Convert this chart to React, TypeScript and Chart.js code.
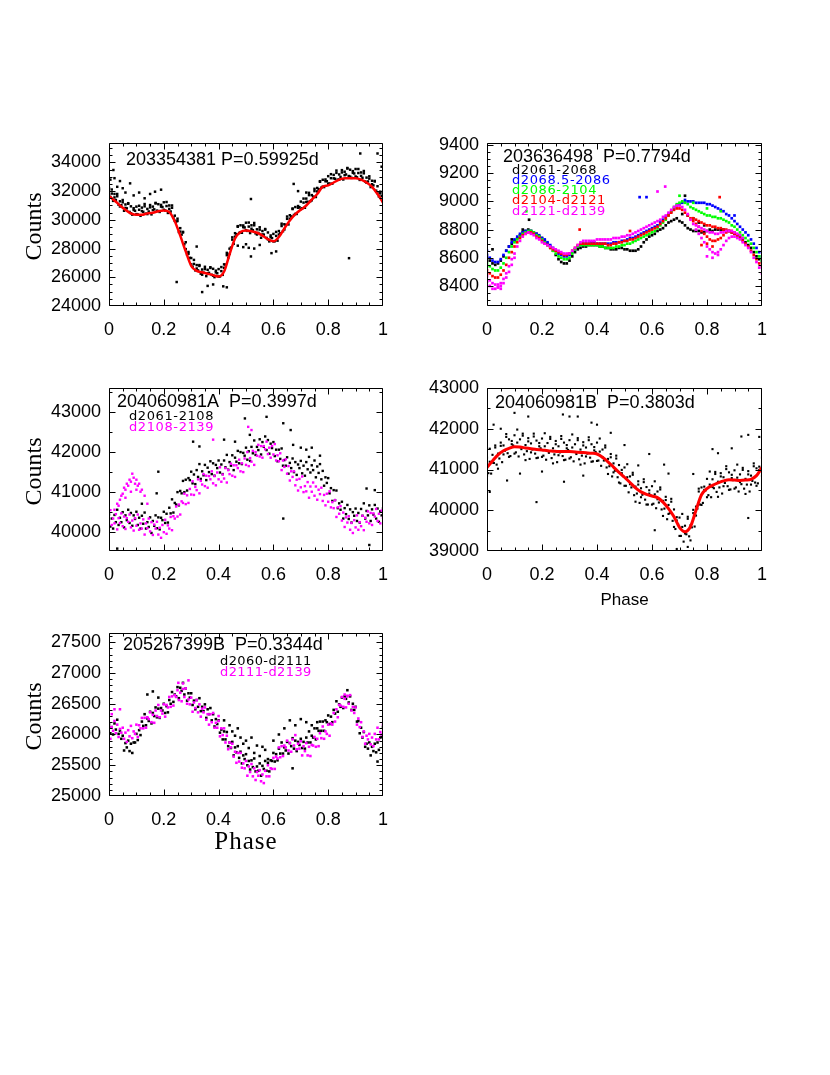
import React, { useEffect, useRef } from "react";
import { Chart, registerables } from "chart.js";

Chart.register(...registerables);

// ---------------- shared phase grids & axis ticks ----------------
const PHASE_02 = [0,0.02,0.04,0.06,0.08,0.1,0.12,0.14,0.16,0.18,0.2,0.22,0.24,0.26,0.28,0.3,0.32,0.34,0.36,0.38,0.4,0.42,0.44,0.46,0.48,0.5,0.52,0.54,0.56,0.58,0.6,0.62,0.64,0.66,0.68,0.7,0.72,0.74,0.76,0.78,0.8,0.82,0.84,0.86,0.88,0.9,0.92,0.94,0.96,0.98,1];
const PHASE_01 = [0,0.01,0.02,0.03,0.04,0.05,0.06,0.07,0.08,0.09,
0.1,0.11,0.12,0.13,0.14,0.15,0.16,0.17,0.18,0.19,
0.2,0.21,0.22,0.23,0.24,0.25,0.26,0.27,0.28,0.29,
0.3,0.31,0.32,0.33,0.34,0.35,0.36,0.37,0.38,0.39,
0.4,0.41,0.42,0.43,0.44,0.45,0.46,0.47,0.48,0.49,
0.5,0.51,0.52,0.53,0.54,0.55,0.56,0.57,0.58,0.59,
0.6,0.61,0.62,0.63,0.64,0.65,0.66,0.67,0.68,0.69,
0.7,0.71,0.72,0.73,0.74,0.75,0.76,0.77,0.78,0.79,
0.8,0.81,0.82,0.83,0.84,0.85,0.86,0.87,0.88,0.89,
0.9,0.91,0.92,0.93,0.94,0.95,0.96,0.97,0.98,0.99,
1];
const PHASE_005 = [0,0.005,0.01,0.015,0.02,0.025,0.03,0.035,0.04,0.045,0.05,0.055,0.06,0.065,0.07,0.075,0.08,0.085,0.09,0.095,
0.1,0.105,0.11,0.115,0.12,0.125,0.13,0.135,0.14,0.145,0.15,0.155,0.16,0.165,0.17,0.175,0.18,0.185,0.19,0.195,
0.2,0.205,0.21,0.215,0.22,0.225,0.23,0.235,0.24,0.245,0.25,0.255,0.26,0.265,0.27,0.275,0.28,0.285,0.29,0.295,
0.3,0.305,0.31,0.315,0.32,0.325,0.33,0.335,0.34,0.345,0.35,0.355,0.36,0.365,0.37,0.375,0.38,0.385,0.39,0.395,
0.4,0.405,0.41,0.415,0.42,0.425,0.43,0.435,0.44,0.445,0.45,0.455,0.46,0.465,0.47,0.475,0.48,0.485,0.49,0.495,
0.5,0.505,0.51,0.515,0.52,0.525,0.53,0.535,0.54,0.545,0.55,0.555,0.56,0.565,0.57,0.575,0.58,0.585,0.59,0.595,
0.6,0.605,0.61,0.615,0.62,0.625,0.63,0.635,0.64,0.645,0.65,0.655,0.66,0.665,0.67,0.675,0.68,0.685,0.69,0.695,
0.7,0.705,0.71,0.715,0.72,0.725,0.73,0.735,0.74,0.745,0.75,0.755,0.76,0.765,0.77,0.775,0.78,0.785,0.79,0.795,
0.8,0.805,0.81,0.815,0.82,0.825,0.83,0.835,0.84,0.845,0.85,0.855,0.86,0.865,0.87,0.875,0.88,0.885,0.89,0.895,
0.9,0.905,0.91,0.915,0.92,0.925,0.93,0.935,0.94,0.945,0.95,0.955,0.96,0.965,0.97,0.975,0.98,0.985,0.99,0.995,
1];
const X_TICKS = [0, 0.2, 0.4, 0.6, 0.8, 1];

// ---------------- Panel 1: 203354381 ----------------
const P1_Y_TICKS = [24000, 26000, 28000, 30000, 32000, 34000];
const P1_MODEL = [31650,31350,31000,30700,30450,30350,30350,30450,30500,30600,
30650,30550,29900,28900,27800,26800,26450,26350,26250,26150,
26050,26400,27600,28700,29150,29250,29200,29100,28900,28650,
28500,28800,29400,29950,30400,30700,31000,31400,31800,32300,
32400,32600,32800,32900,32900,32900,32800,32600,32300,31800,
31200];
const P1_BLACK_A = [32220,31590,31830,31320,31800,31380,31800,31050,31290,31020,
31380,30630,31070,30800,31160,30550,30940,30360,30810,30630,
30920,30370,30700,30280,30850,30560,31100,30430,30760,30580,
31030,30380,30920,30730,31180,30640,31090,30550,31040,30890,
31220,30650,30960,30480,31000,30580,31000,30150,30290,29870,
30080,29150,29420,28970,29160,28300,28440,27580,27760,27350,
27340,26740,26930,26480,26850,26480,26850,26250,26540,26320,
26730,26080,26520,26310,26650,26170,26590,26010,26460,26280,
26570,26060,26430,26170,26900,26880,27700,27350,27990,28070,
28780,28330,29070,29000,29560,29090,29620,29100,29610,29470,
29800,29230,29530,29080,29620,29280,29780,29060,29340,29090,
29480,28750,29220,28970,29360,28740,29120,28500,28910,28730,
29020,28510,28880,28550,29220,29060,29730,29210,29690,29640,
30230,29680,30320,30240,30790,30340,30890,30410,30960,30880,
31270,30800,31200,30840,31480,31260,31880,31300,31720,31620,
32160,31590,32220,32140,32690,32240,32790,32280,32810,32690,
33040,32530,32900,32520,33130,32860,33430,32800,33160,32990,
33460,32810,33350,33160,33610,33050,33490,32920,33390,33230,
33540,32960,33260,32780,33300,32930,33400,32670,32940,32670,
33030,32280,32720,32400,32710,32030,32340,31630,31960,31650,
31820];
const P1_BLACK_B = [31700,32110,31560,31640,30930,31220,30830,31120,30460,30690,
30400,30980,30610,30940,30400,30870,30680,31140,30610,30920,
30700,31240,30760,30840,29930,29920,29180,29120,27960,27640,
26900,27210,26610,26790,26180,26570,26280,26700,26110,26340,
26050,26710,26660,27540,27630,28620,28830,29520,29140,29490,
29280,29810,29380,29620,28980,29320,28980,29320,28640,28790,
28500,29160,28980,29570,29330,30070,30080,30750,30410,30840,
30750,31480,31240,31720,31360,32000,31980,32650,32310,32690,
32520,33180,32890,33270,32800,33300,33110,33570,33010,33270,
33020,33540,33060,33240,32580,32870,32480,32670,31860,31840,
31300];
const P1_OUT_X = [0.005,0.016,0.02,0.03,0.04,0.05,0.06,0.077,0.09,0.11,0.13,0.15,0.168,0.19,0.247,0.32,0.34,0.36,0.38,0.417,0.43,0.47,0.49,0.5,0.51,0.518,0.518,0.53,0.55,0.593,0.61,0.674,0.69,0.72,0.876,0.917,0.98,0.995];
const P1_OUT_Y = [32800,33470,32900,32300,32700,32200,31900,32540,31700,31900,31500,31800,31960,32100,25670,28140,24970,25400,25500,25370,25300,28200,28100,28300,28050,31450,27450,28000,28250,27680,27800,32500,32000,31900,27330,34620,34620,33700];

// ---------------- Panel 2: 203636498 ----------------
const P2_Y_TICKS = [8400, 8600, 8800, 9000, 9200, 9400];
const P2_SERIES_NAMES = ["d2061-2068", "d2068.5-2086", "d2086-2104", "d2104-d2121", "d2121-d2139"];
const P2_BLACK = [8600,8580,8560,8550,8560,8580,8610,8650,8680,8700,
8720,8740,8760,8780,8790,8800,8790,8780,8770,8750,
8740,8720,8700,8680,8650,8620,8590,8570,8560,8560,
8580,8610,8640,8660,8670,8680,8680,8690,8690,8690,
8690,8680,8680,8670,8670,8660,8660,8660,8670,8670,
8660,8660,8650,8650,8650,8660,8680,8710,8730,8750,
8760,8770,8790,8800,8810,8830,8850,8860,8870,8880,
8860,8850,8830,8810,8800,8790,8790,8790,8780,8780,
8790,8800,8790,8800,8800,8800,8800,8790,8790,8780,
8770,8760,8750,8730,8710,8690,8670,8640,8610,8590,
8570];
const P2_BLUE = [8620,8600,8580,8570,8570,8590,8620,8650,8680,8710,
8730,8750,8770,8780,8790,8790,8790,8780,8770,8760,
8740,8730,8710,8690,8670,8650,8630,8620,8610,8610,
8620,8640,8660,8680,8690,8700,8700,8700,8710,8710,
8700,8700,8700,8700,8700,8700,8710,8710,8710,8720,
8720,8730,8740,8740,8750,8760,8770,8780,8790,8800,
8810,8820,8830,8850,8870,8890,8910,8930,8950,8970,
8980,8990,9000,9000,9000,9000,8990,8990,8990,8990,
8980,8980,8970,8960,8950,8940,8930,8910,8900,8880,
8860,8840,8820,8800,8780,8760,8730,8700,8670,8640,
8610];
const P2_GREEN = [8560,8540,8520,8510,8510,8530,8560,8600,8640,8680,
8710,8730,8750,8770,8780,8790,8790,8780,8760,8750,
8730,8710,8690,8670,8650,8630,8610,8600,8590,8590,
8600,8630,8660,8680,8690,8690,8690,8690,8690,8690,
8690,8680,8680,8670,8670,8670,8670,8680,8680,8690,
8690,8700,8700,8710,8720,8730,8740,8750,8760,8770,
8780,8790,8810,8830,8850,8870,8900,8930,8960,8980,
8990,9000,8990,8980,8960,8950,8940,8930,8920,8910,
8900,8900,8890,8890,8880,8880,8870,8860,8850,8830,
8820,8800,8780,8760,8740,8720,8700,8670,8640,8610,
8580];
const P2_RED = [8510,8490,8470,8460,8460,8480,8510,8550,8600,8640,
8680,8710,8740,8760,8770,8780,8780,8770,8750,8740,
8720,8700,8690,8670,8660,8650,8640,8630,8620,8620,
8630,8650,8670,8690,8700,8700,8700,8700,8700,8700,
8700,8700,8700,8700,8690,8690,8700,8700,8710,8710,
8720,8720,8730,8730,8740,8750,8760,8770,8780,8790,
8800,8810,8820,8840,8860,8880,8900,8920,8940,8950,
8950,8940,8920,8900,8880,8860,8840,8820,8790,8770,
8750,8730,8720,8720,8730,8740,8760,8780,8790,8790,
8780,8760,8740,8720,8700,8680,8650,8620,8590,8560,
8540];
const P2_MAGENTA = [8470,8440,8420,8410,8410,8420,8450,8490,8540,8590,
8630,8680,8720,8750,8770,8780,8770,8760,8740,8730,
8710,8700,8690,8680,8670,8660,8650,8640,8630,8630,
8630,8650,8670,8690,8710,8720,8720,8720,8720,8720,
8730,8730,8730,8730,8730,8730,8740,8740,8740,8750,
8750,8760,8760,8770,8780,8790,8800,8810,8820,8830,
8840,8850,8860,8870,8890,8900,8920,8940,8960,8970,
8970,8960,8940,8910,8870,8840,8800,8770,8740,8710,
8680,8660,8640,8630,8640,8660,8690,8720,8740,8750,
8750,8740,8730,8710,8690,8670,8640,8600,8570,8530,
8490];
const P2_RED_UP_X = [0.75,0.76,0.77,0.78,0.79,0.8,0.81,0.82,0.83,0.84,0.85,0.86,0.87,0.88,0.89,0.9];
const P2_RED_UP_Y = [8880,8870,8860,8850,8840,8830,8830,8820,8820,8810,8810,8800,8800,8790,8780,8770];
const P2_MAG_UP_X = [0.76,0.77,0.78,0.79,0.8,0.81,0.82,0.83,0.84,0.85,0.86,0.87,0.88,0.89,0.9,0.91,0.92,0.93];
const P2_MAG_UP_Y = [8830,8820,8810,8800,8790,8780,8780,8770,8770,8780,8780,8790,8790,8790,8780,8770,8760,8740];
const P2_MAG_LO_X = [0,0.01,0.02,0.03,0.04,0.05,0.06,0.07,0.08,0.09,0.1];
const P2_MAG_LO_Y = [8430,8400,8380,8380,8390,8400,8420,8460,8500,8550,8600];
const P2_BLACK_OUT_X = [0.02,0.09,0.13,0.153,0.71,0.72,0.73,0.75,0.77,0.79];
const P2_BLACK_OUT_Y = [8660,8730,8800,8870,8910,9040,8900,8880,8850,8830];
const P2_BLUE_OUT_X = [0,0.555,0.58,0.72,0.9];
const P2_BLUE_OUT_Y = [8650,9030,9030,9010,8900];
const P2_GREEN_OUT_X = [0.143,0.7,0.75,0.8,0.85];
const P2_GREEN_OUT_Y = [8930,9040,8990,8950,8930];
const P2_RED_OUT_X = [0.337,0.52,0.78,0.8,0.82,0.846];
const P2_RED_OUT_Y = [8800,8790,8690,8700,8680,9030];
const P2_MAG_OUT_X = [0.04,0.05,0.62,0.648,0.8,0.82,0.84];
const P2_MAG_OUT_Y = [8390,8380,9070,9105,8610,8600,8620];

// ---------------- Panel 3: 204060981A ----------------
const P3_Y_TICKS = [40000, 41000, 42000, 43000];
const P3_BLACK = [40430,40130,40330,40080,40420,40240,40550,40170,40350,40240,
40490,40110,40410,40290,40550,40220,40470,40150,40410,40320,
40500,40170,40350,40080,40400,40200,40480,40080,40240,40120,
40360,39970,40270,40150,40410,40090,40360,40060,40350,40290,
40500,40220,40450,40230,40600,40460,40810,40480,40720,40680,
40990,40660,41020,40960,41270,40990,41300,41030,41340,41290,
41500,41210,41430,41190,41540,41370,41690,41320,41510,41410,
41670,41290,41600,41490,41760,41440,41710,41400,41670,41590,
41780,41480,41680,41440,41780,41610,41920,41550,41740,41650,
41910,41540,41850,41750,42020,41710,41990,41690,41970,41900,
42100,41800,42010,41770,42120,41960,42280,41920,42120,42040,
42310,41930,42240,42120,42380,42040,42290,41950,42200,42090,
42240,41890,42050,41760,42050,41820,42080,41650,41790,41650,
41860,41450,41720,41590,41830,41490,41740,41420,41680,41590,
41770,41460,41650,41400,41740,41560,41870,41480,41660,41540,
41780,41360,41630,41470,41690,41310,41520,41150,41360,41220,
41340,40960,41090,40770,41040,40790,41030,40590,40710,40550,
40750,40330,40590,40440,40670,40320,40560,40230,40490,40400,
40580,40270,40470,40230,40570,40400,40710,40330,40520,40410,
40660,40270,40560,40430,40670,40330,40580,40250,40510,40410,
40580];
const P3_MAGENTA = [40260,40540,40170,40330,40210,40440,40060,40340,40220,40460,
40140,40380,40070,40340,40250,40430,40110,40280,40030,40340,
40150,40430,40050,40210,40080,40310,39930,40210,40090,40330,
40010,40240,39920,40180,40080,40250,39930,40100,39850,40170,
39990,40300,39950,40160,40080,40370,40040,40390,40330,40630,
40380,40680,40430,40760,40720,40950,40690,40910,40720,41070,
40930,41260,40920,41120,41040,41310,40960,41270,41180,41440,
41140,41400,41100,41390,41310,41510,41210,41390,41160,41480,
41310,41610,41250,41430,41330,41590,41230,41540,41440,41700,
41400,41660,41370,41660,41590,41800,41510,41710,41490,41830,
41670,41990,41640,41840,41750,42020,41670,41990,41900,42170,
41880,42140,41850,42140,42060,42250,41940,42100,41850,42140,
41930,42190,41780,41910,41760,41960,41540,41780,41620,41810,
41450,41640,41280,41510,41370,41510,41160,41300,41030,41320,
41110,41380,40990,41140,41010,41240,40850,41130,41000,41230,
40900,41130,40800,41050,40940,41100,40770,40920,40660,40950,
40750,41010,40610,40740,40590,40790,40370,40610,40450,40640,
40280,40480,40120,40360,40230,40390,40050,40220,39970,40290,
40110,40410,40050,40240,40140,40400,40040,40350,40250,40510,
40210,40470,40170,40460,40380,40570,40270,40450,40210,40530,
40350];
const P3_MAG_BUMP_X = [0.02,0.03,0.035,0.04,0.045,0.05,0.055,0.06,0.06,0.065,0.07,0.075,0.08,0.08,0.085,0.09,0.095,0.1,0.1,0.105,0.11,0.115,0.12,0.13,0.14];
const P3_MAG_BUMP_Y = [40550,40700,40650,40800,40900,40950,41100,41050,40850,41200,41150,41300,41250,41000,41450,41350,41200,41300,41050,41150,41200,41000,41050,40900,40700];
const P3_BLACK_OUT_X = [0.03,0.174,0.18,0.307,0.33,0.496,0.514,0.575,0.636,0.663,0.636,0.94,0.97,0.95,0.12,0.7,0.72,0.74,0.77,0.46,0.42,0.672];
const P3_BLACK_OUT_Y = [39580,40960,41500,42250,42130,42830,42420,42870,42710,42540,40330,41080,41040,39670,40700,42100,42050,42100,41900,42250,42300,42170];
const P3_MAG_OUT_X = [0.508,0.52,0.38];
const P3_MAG_OUT_Y = [42620,42540,42300];

// ---------------- Panel 4: 204060981B ----------------
const P4_Y_TICKS = [39000, 40000, 41000, 42000, 43000];
const P4_MODEL = [41050,41210,41360,41460,41520,41560,41550,41530,41510,41490,
41480,41460,41450,41440,41440,41440,41430,41420,41410,41400,
41380,41300,41190,41060,40930,40810,40680,40550,40450,40390,
40350,40310,40200,40040,39840,39580,39470,39600,40000,40380,
40530,40610,40670,40720,40750,40740,40730,40740,40760,40850,
41050];
const P4_BLACK_A = [41290,40910,41190,40900,41360,41160,41590,41120,41390,41270,
41660,41180,41590,41460,41800,41400,41740,41330,41700,41590,
41840,41420,41660,41320,41740,41500,41880,41370,41600,41450,
41770,41260,41640,41490,41810,41390,41710,41290,41650,41520,
41760,41340,41570,41240,41650,41410,41800,41280,41520,41370,
41700,41180,41570,41420,41750,41330,41660,41240,41600,41480,
41720,41300,41540,41200,41620,41380,41770,41250,41490,41340,
41670,41150,41540,41390,41720,41290,41620,41200,41550,41430,
41660,41220,41440,41090,41490,41220,41590,41050,41260,41080,
41380,40830,41150,40970,41270,40810,41110,40660,40990,40840,
41050,40600,40810,40440,40830,40560,40920,40370,40580,40410,
40710,40180,40540,40380,40690,40260,40570,40140,40490,40360,
40590,40160,40390,40050,40460,40190,40560,40020,40230,40040,
40330,39780,40130,39930,40210,39740,40020,39540,39830,39650,
39820,39370,39590,39230,39620,39410,39840,39360,39630,39580,
40010,39600,40090,40040,40460,40140,40560,40180,40580,40490,
40770,40370,40630,40320,40760,40540,40940,40450,40700,40560,
40910,40410,40810,40670,41010,40590,40930,40510,40870,40740,
40980,40560,40800,40460,40880,40640,41040,40530,40770,40630,
40960,40460,40850,40720,41080,40680,41030,40660,41070,41000,
41290];
const P4_BLACK_B = [40840,41510,41170,41540,41020,41580,41370,41870,41310,41620,
41390,41980,41550,41830,41230,41690,41420,41880,41280,41570,
41310,41890,41460,41750,41150,41620,41350,41820,41230,41520,
41270,41860,41430,41720,41120,41590,41320,41790,41190,41470,
41210,41760,41300,41540,40890,41300,40930,41340,40680,40910,
40600,41130,40640,40870,40210,40630,40320,40760,40140,40410,
40140,40710,40270,40510,39860,40250,39910,40280,39590,39750,
39370,39910,39430,39790,39260,39930,39870,40530,40130,40500,
40320,40950,40570,40890,40330,40830,40590,41080,40500,40790,
40530,41120,40690,40990,40400,40880,40630,41150,40600,40990,
40840];
const P4_OUT_X = [0.01,0.024,0.05,0.073,0.1,0.15,0.18,0.276,0.3,0.33,0.38,0.4,0.45,0.59,0.61,0.644,0.66,0.75,0.82,0.84,0.89,0.925,0.95,0.95,0.99,0.5,0.55,0.69,0.71,0.73,0.12,0.2,0.28,0.35];
const P4_OUT_Y = [40450,42100,42000,40730,42390,42300,40200,42350,42300,42300,42150,42100,41900,41380,39510,41120,40900,40890,41500,41400,41520,41810,41850,39810,41800,41600,41100,39050,39000,39100,40900,40950,40700,40850];

// ---------------- Panel 5: 205267399B ----------------
const P5_Y_TICKS = [25000, 25500, 26000, 26500, 27000, 27500];
const P5_BLACK = [26170,26020,26120,26000,26180,26080,26240,26010,26060,25930,
25980,25740,25860,25790,25900,25730,25850,25700,25870,25870,
26010,25910,26070,25990,26210,26140,26330,26150,26260,26220,
26370,26180,26350,26300,26440,26280,26420,26270,26430,26390,
26500,26350,26460,26360,26560,26500,26690,26530,26650,26620,
26770,26590,26760,26710,26840,26650,26750,26550,26670,26600,
26670,26480,26550,26410,26560,26450,26590,26380,26450,26380,
26490,26270,26410,26330,26430,26230,26330,26130,26250,26170,
26230,26030,26080,25920,26050,25920,26040,25810,25870,25780,
25880,25660,25790,25710,25810,25620,25720,25530,25660,25600,
25680,25500,25570,25430,25580,25470,25610,25400,25480,25410,
25530,25330,25490,25440,25570,25410,25540,25400,25580,25570,
25700,25560,25680,25580,25770,25690,25870,25690,25790,25740,
25880,25690,25860,25810,25940,25770,25900,25730,25880,25830,
25930,25780,25880,25770,25950,25870,26050,25870,25980,25950,
26100,25920,26100,26060,26210,26060,26210,26060,26230,26200,
26310,26170,26290,26200,26400,26340,26540,26370,26490,26450,
26600,26430,26620,26580,26720,26520,26620,26400,26500,26400,
26450,26210,26220,26020,26110,25950,26040,25800,25850,25770,
25870,25660,25800,25730,25850,25710,25870,25750,25950,25960,
26120];
const P5_MAGENTA = [26130,25930,26120,26060,26220,26020,26160,25960,26090,26030,
26110,25930,26030,25880,26070,25970,26140,25940,26050,26010,
26160,25960,26150,26100,26270,26100,26270,26110,26280,26250,
26360,26200,26320,26190,26390,26300,26480,26280,26390,26340,
26490,26290,26480,26440,26610,26450,26620,26470,26640,26610,
26720,26560,26680,26540,26740,26610,26750,26500,26570,26490,
26600,26370,26520,26430,26560,26360,26490,26290,26420,26360,
26440,26240,26330,26160,26330,26200,26350,26110,26190,26110,
26220,25970,26100,25990,26100,25870,25980,25760,25870,25790,
25850,25640,25720,25540,25700,25560,25700,25460,25530,25450,
25570,25330,25480,25390,25520,25320,25450,25260,25390,25330,
25420,25240,25350,25210,25410,25320,25500,25320,25450,25440,
25620,25440,25640,25610,25790,25630,25810,25650,25820,25790,
25900,25740,25860,25720,25920,25820,25990,25760,25850,25770,
25890,25660,25810,25730,25860,25660,25800,25650,25830,25820,
25960,25800,25930,25810,26020,25940,26130,25930,26050,26010,
26160,25980,26180,26160,26350,26210,26410,26280,26480,26470,
26610,26450,26580,26440,26630,26500,26640,26390,26450,26350,
26440,26160,26260,26120,26200,25960,26050,25850,25980,25920,
26010,25840,25950,25810,26010,25920,26110,25920,26040,26000,
26160];
const P5_BLACK_OUT_X = [0.42,0.44,0.46,0.47,0.49,0.5,0.51,0.52,0.53,0.54,0.55,0.56,0.57,0.6,0.62,0.64,0.66,0.68,0.7,0.72,0.74,0.76,0.16,0.14,0.18,0.98,0.67,0.45,0.48,0.58];
const P5_BLACK_OUT_Y = [26230,26150,25980,26100,25850,25900,25780,25950,25700,25820,25650,25800,25750,25900,26000,26100,26230,26150,26250,26200,26150,26200,26700,26650,26600,25560,25450,26050,25950,25600];
const P5_MAG_OUT_X = [0.01,0.02,0.04,0.253,0.27,0.29,0.4,0.86,0.87];
const P5_MAG_OUT_Y = [26330,26410,26410,26840,26830,26880,26300,26650,26620];

// ---------------- styling ----------------
const SANS = '"Liberation Sans", Arial, Helvetica, sans-serif';
const SERIF = '"Liberation Serif", "Times New Roman", serif';
const SMALL = '"DejaVu Sans", "Liberation Sans", sans-serif';
const BLACK = "#000000";
const BLUE = "#0000ff";
const GREEN = "#00ff00";
const RED = "#ff0000";
const MAGENTA = "#ff00ff";

const YW = 100; // y-axis box width
const PT = 20; // top padding
const PR = 20; // right padding
const XH = 70; // x-axis box height

function pts(pairs: [number[], number[]][]) {
  const out: { x: number; y: number }[] = [];
  for (const [xs, ys] of pairs) xs.forEach((x, i) => out.push({ x, y: ys[i] }));
  return out;
}
function dots(pairs: [number[], number[]][], color: string, r: number) {
  return {
    data: pts(pairs),
    showLine: false,
    pointStyle: "rect",
    pointRadius: r,
    pointHoverRadius: r,
    pointBorderWidth: 0,
    pointBackgroundColor: color,
    backgroundColor: color,
    borderColor: color,
    clip: 0,
  };
}
function curve(xs: number[], ys: number[], color: string, w: number) {
  return {
    data: pts([[xs, ys]]),
    showLine: true,
    borderColor: color,
    backgroundColor: color,
    borderWidth: w,
    pointRadius: 0,
    pointHoverRadius: 0,
    cubicInterpolationMode: "monotone",
    clip: 0,
  };
}
// datasets listed bottom-first; later ones are drawn on top
function stack(list: any[]) {
  return list.map((d, i) => ({ ...d, order: list.length - i }));
}

type Label = {
  text: string;
  anchor: "tl" | "ytitle" | "xtitle";
  x: number;
  y: number;
  font: string;
  color?: string;
  spacing?: string;
};

type Spec = {
  left: number;
  top: number;
  right: number;
  bottom: number;
  yMin: number;
  yMax: number;
  yTicks: number[];
  yMinor: number;
  datasets: any[];
  labels: Label[];
};

const pgPlugin = {
  id: "pgframe",
  afterDraw(chart: any, _args: any, opts: any) {
    const { ctx, chartArea: a } = chart;
    const xs = chart.scales.x;
    const ys = chart.scales.y;
    const L = a.left + 0.5;
    const R = a.right - 0.5;
    const T = a.top + 0.5;
    const B = a.bottom - 0.5;
    ctx.save();
    ctx.strokeStyle = "#000";
    ctx.lineWidth = 1;
    ctx.beginPath();
    ctx.rect(L, T, R - L, B - T);
    const clamp = (v: number, lo: number, hi: number) => Math.min(hi, Math.max(lo, v));
    const tickX = (v: number, len: number) => {
      const p = clamp(Math.round(xs.getPixelForValue(v)) + 0.5, L, R);
      ctx.moveTo(p, B);
      ctx.lineTo(p, B - len);
      ctx.moveTo(p, T);
      ctx.lineTo(p, T + len);
    };
    const tickY = (v: number, len: number) => {
      const p = clamp(Math.round(ys.getPixelForValue(v)) + 0.5, T, B);
      ctx.moveTo(L, p);
      ctx.lineTo(L + len, p);
      ctx.moveTo(R, p);
      ctx.lineTo(R - len, p);
    };
    const minor = (min: number, max: number, step: number, majors: number[], fn: (v: number, l: number) => void) => {
      const i0 = Math.ceil(min / step - 1e-6);
      const i1 = Math.floor(max / step + 1e-6);
      for (let i = i0; i <= i1; i++) {
        const v = i * step;
        if (majors.some((m) => Math.abs(m - v) < step * 1e-3)) continue;
        fn(v, 3);
      }
    };
    X_TICKS.forEach((v) => tickX(v, 6));
    minor(xs.min, xs.max, 0.05, X_TICKS, tickX);
    opts.yTicks.forEach((v: number) => tickY(v, 6));
    minor(ys.min, ys.max, opts.yMinor, opts.yTicks, tickY);
    ctx.stroke();

    for (const lb of opts.labels as Label[]) {
      ctx.save();
      ctx.font = lb.font;
      ctx.fillStyle = lb.color || "#000";
      ctx.letterSpacing = lb.spacing || "0px";
      ctx.textBaseline = "middle";
      if (lb.anchor === "tl") {
        ctx.textAlign = "left";
        ctx.fillText(lb.text, a.left + lb.x, a.top + lb.y);
      } else if (lb.anchor === "ytitle") {
        ctx.translate(a.left + lb.x, (a.top + a.bottom) / 2 + lb.y);
        ctx.rotate(-Math.PI / 2);
        ctx.textAlign = "center";
        ctx.fillText(lb.text, 0, 0);
      } else {
        ctx.textAlign = "center";
        ctx.fillText(lb.text, (a.left + a.right) / 2 + lb.x, a.bottom + lb.y);
      }
      ctx.restore();
    }
    ctx.restore();
  },
};

function buildConfig(spec: Spec): any {
  const tickFont = { family: SANS, size: 18 };
  return {
    type: "scatter",
    data: { datasets: spec.datasets },
    options: {
      animation: false,
      responsive: false,
      maintainAspectRatio: false,
      events: [],
      layout: { padding: { left: 0, top: PT, right: PR, bottom: 0 } },
      plugins: {
        legend: { display: false },
        tooltip: { enabled: false },
        pgframe: { labels: spec.labels, yTicks: spec.yTicks, yMinor: spec.yMinor },
      },
      scales: {
        x: {
          type: "linear",
          position: "bottom",
          min: 0,
          max: 1,
          afterBuildTicks: (s: any) => {
            s.ticks = X_TICKS.map((v) => ({ value: v }));
          },
          afterFit: (s: any) => {
            s.height = XH;
          },
          grid: { display: false, drawTicks: false },
          border: { display: false },
          ticks: {
            autoSkip: false,
            maxRotation: 0,
            padding: 13,
            color: "#000",
            font: tickFont,
            callback: (v: any) => String(v),
          },
        },
        y: {
          type: "linear",
          position: "left",
          min: spec.yMin,
          max: spec.yMax,
          afterBuildTicks: (s: any) => {
            s.ticks = spec.yTicks.map((v) => ({ value: v }));
          },
          afterFit: (s: any) => {
            s.width = YW;
          },
          grid: { display: false, drawTicks: false },
          border: { display: false },
          ticks: {
            autoSkip: false,
            padding: 8,
            color: "#000",
            font: tickFont,
            callback: (v: any) => String(v),
          },
        },
      },
    },
    plugins: [pgPlugin],
  };
}

const TITLE_FONT = `18px ${SANS}`;
const LEG_FONT = `13px ${SMALL}`;
const COUNTS: Label = { text: "Counts", anchor: "ytitle", x: -74, y: 2, font: `24px ${SERIF}` };

const SPECS: Spec[] = [
  {
    left: 109, top: 143, right: 383, bottom: 306,
    yMin: 24000, yMax: 35350, yTicks: P1_Y_TICKS, yMinor: 500,
    datasets: stack([
      dots([[PHASE_005, P1_BLACK_A], [PHASE_01, P1_BLACK_B], [P1_OUT_X, P1_OUT_Y]], BLACK, 1.75),
      curve(PHASE_02, P1_MODEL, RED, 2.5),
    ]),
    labels: [
      { text: "203354381 P=0.59925d", anchor: "tl", x: 17, y: 17, font: TITLE_FONT },
      COUNTS,
    ],
  },
  {
    left: 487, top: 143, right: 762, bottom: 306,
    yMin: 8258, yMax: 9414, yTicks: P2_Y_TICKS, yMinor: 50,
    datasets: stack([
      dots([[PHASE_01, P2_BLACK], [P2_BLACK_OUT_X, P2_BLACK_OUT_Y]], BLACK, 1.9),
      dots([[PHASE_01, P2_BLUE], [P2_BLUE_OUT_X, P2_BLUE_OUT_Y]], BLUE, 1.9),
      dots([[PHASE_01, P2_GREEN], [P2_GREEN_OUT_X, P2_GREEN_OUT_Y]], GREEN, 1.9),
      dots([[PHASE_01, P2_RED], [P2_RED_UP_X, P2_RED_UP_Y], [P2_RED_OUT_X, P2_RED_OUT_Y]], RED, 1.9),
      dots([[PHASE_01, P2_MAGENTA], [P2_MAG_UP_X, P2_MAG_UP_Y], [P2_MAG_LO_X, P2_MAG_LO_Y], [P2_MAG_OUT_X, P2_MAG_OUT_Y]], MAGENTA, 1.9),
    ]),
    labels: [
      { text: "203636498  P=0.7794d", anchor: "tl", x: 16, y: 14, font: TITLE_FONT },
      { text: P2_SERIES_NAMES[0], anchor: "tl", x: 25, y: 28, font: LEG_FONT, color: BLACK, spacing: "0.6px" },
      { text: P2_SERIES_NAMES[1], anchor: "tl", x: 25, y: 38, font: LEG_FONT, color: BLUE, spacing: "0.6px" },
      { text: P2_SERIES_NAMES[2], anchor: "tl", x: 25, y: 48, font: LEG_FONT, color: GREEN, spacing: "0.6px" },
      { text: P2_SERIES_NAMES[3], anchor: "tl", x: 25, y: 58, font: LEG_FONT, color: RED, spacing: "0.6px" },
      { text: P2_SERIES_NAMES[4], anchor: "tl", x: 25, y: 69, font: LEG_FONT, color: MAGENTA, spacing: "0.6px" },
    ],
  },
  {
    left: 109, top: 388, right: 383, bottom: 551,
    yMin: 39520, yMax: 43590, yTicks: P3_Y_TICKS, yMinor: 500,
    datasets: stack([
      dots([[PHASE_005, P3_BLACK], [P3_BLACK_OUT_X, P3_BLACK_OUT_Y]], BLACK, 1.7),
      dots([[PHASE_005, P3_MAGENTA], [P3_MAG_BUMP_X, P3_MAG_BUMP_Y], [P3_MAG_OUT_X, P3_MAG_OUT_Y]], MAGENTA, 1.7),
    ]),
    labels: [
      { text: "204060981A  P=0.3997d", anchor: "tl", x: 8, y: 14, font: TITLE_FONT },
      { text: "d2061-2108", anchor: "tl", x: 20, y: 29, font: LEG_FONT, color: BLACK, spacing: "0.6px" },
      { text: "d2108-2139", anchor: "tl", x: 20, y: 40, font: LEG_FONT, color: MAGENTA, spacing: "0.6px" },
      COUNTS,
    ],
  },
  {
    left: 487, top: 388, right: 762, bottom: 551,
    yMin: 39000, yMax: 43000, yTicks: P4_Y_TICKS, yMinor: 500,
    datasets: stack([
      dots([[PHASE_005, P4_BLACK_A], [PHASE_01, P4_BLACK_B], [P4_OUT_X, P4_OUT_Y]], BLACK, 1.5),
      curve(PHASE_02, P4_MODEL, RED, 3),
    ]),
    labels: [
      { text: "204060981B  P=0.3803d", anchor: "tl", x: 8, y: 15, font: TITLE_FONT },
      { text: "Phase", anchor: "xtitle", x: 0, y: 49, font: `17px ${SANS}` },
    ],
  },
  {
    left: 109, top: 633, right: 383, bottom: 796,
    yMin: 25000, yMax: 27650, yTicks: P5_Y_TICKS, yMinor: 100,
    datasets: stack([
      dots([[PHASE_005, P5_BLACK], [P5_BLACK_OUT_X, P5_BLACK_OUT_Y]], BLACK, 1.8),
      dots([[PHASE_005, P5_MAGENTA], [P5_MAG_OUT_X, P5_MAG_OUT_Y]], MAGENTA, 1.8),
    ]),
    labels: [
      { text: "205267399B  P=0.3344d", anchor: "tl", x: 14, y: 12, font: TITLE_FONT },
      { text: "d2060-d2111", anchor: "tl", x: 111, y: 29, font: LEG_FONT, color: BLACK, spacing: "0.4px" },
      { text: "d2111-d2139", anchor: "tl", x: 111, y: 40, font: LEG_FONT, color: MAGENTA, spacing: "0.4px" },
      COUNTS,
      { text: "Phase", anchor: "xtitle", x: 0, y: 46, font: `25px ${SERIF}`, spacing: "1px" },
    ],
  },
];

function Panel({ spec }: { spec: Spec }) {
  const ref = useRef<HTMLCanvasElement>(null);
  const w = spec.right - spec.left + YW + PR;
  const h = spec.bottom - spec.top + PT + XH;
  useEffect(() => {
    if (!ref.current) return;
    const chart = new Chart(ref.current, buildConfig(spec));
    return () => chart.destroy();
  }, [spec]);
  return (
    <canvas
      ref={ref}
      width={w}
      height={h}
      style={{ position: "absolute", left: spec.left - YW, top: spec.top - PT, width: w, height: h }}
    />
  );
}

export default function App() {
  return (
    <div style={{ position: "absolute", left: 0, top: 0, width: 830, height: 1075, background: "#fff", overflow: "hidden" }}>
      {SPECS.map((s, i) => (
        <Panel key={i} spec={s} />
      ))}
    </div>
  );
}
